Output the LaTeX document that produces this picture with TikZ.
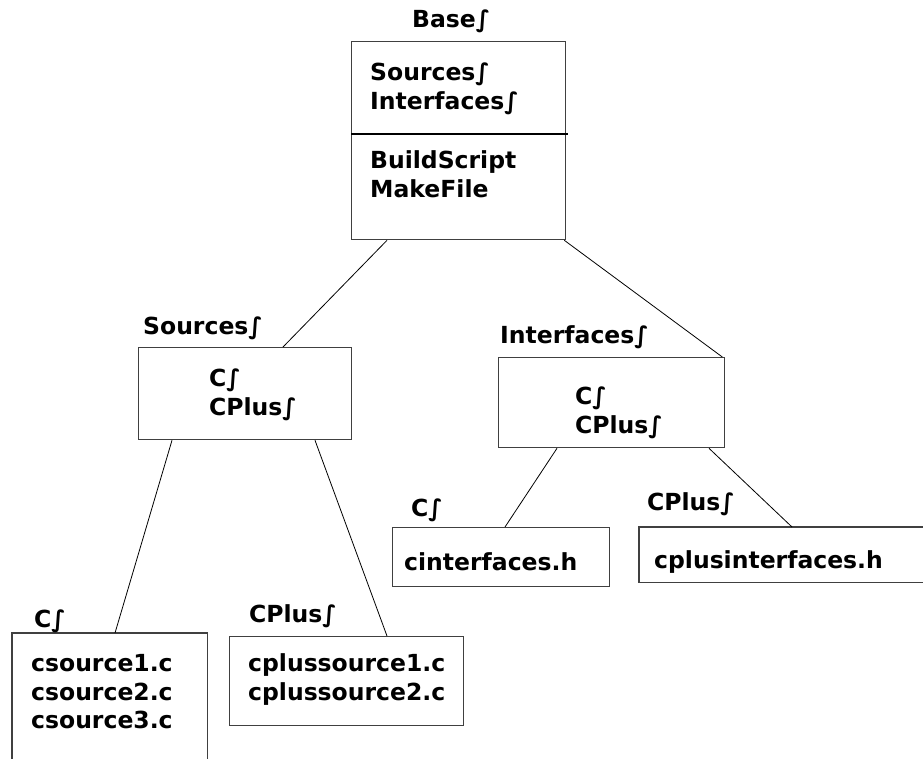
\documentclass[tikz,border=0pt]{standalone}
\usepackage{fontspec}
\setmainfont{DejaVu Sans}
\usetikzlibrary{calc}
\begin{document}
\begin{tikzpicture}[x=1pt,y=-1pt,
  frame/.style={draw=black!75, line width=1.3pt},
  box/.style={frame, inner sep=0pt, anchor=north west},
  hollow/.style={inner sep=0pt, anchor=north west},
  txt/.style={anchor=base west, inner sep=0pt, font=\fontsize{23.5}{28}\selectfont\bfseries},
  link/.style={draw=black, line width=0.8pt}]
\useasboundingbox (0,0) rectangle (923,758);

% folder boxes
\node[box, minimum width=214pt, minimum height=198pt] (base) at (351,41) {};
\node[box, minimum width=213pt, minimum height=92pt] (src) at (138,347) {};
\node[box, minimum width=226pt, minimum height=90pt] (ifc) at (498,357) {};
\node[box, minimum width=234pt, minimum height=89pt] (cps) at (229,636) {};
\node[box, minimum width=217pt, minimum height=59pt] (cif) at (392,527) {};
% boxes running off the page edge
\node[hollow, minimum width=195pt, minimum height=128pt] (csrc) at (12,633) {};
\draw[frame] (csrc.south west) -- (csrc.north west) -- (csrc.north east) -- (csrc.south east);
\node[hollow, minimum width=290pt, minimum height=55pt] (cpif) at (639,527) {};
\draw[frame] (cpif.north east) -- (cpif.north west) -- (cpif.south west) -- (cpif.south east);

% divider inside the base box
\draw[line width=2pt] ($(base.north west)+(0,93)$) -- ($(base.north east)+(2,93)$);

% tree connectors
\draw[link] ($(base.south west)+(36,0)$) -- ($(src.north west)+(145,0)$);
\draw[link] ($(base.south east)+(-2,0)$) -- ($(ifc.north east)+(-3,0)$);
\draw[link] ($(src.south west)+(34,0)$) -- ($(csrc.north west)+(103,0)$);
\draw[link] ($(src.south west)+(177,0)$) -- ($(cps.north west)+(158,0)$);
\draw[link] ($(ifc.south west)+(59,0)$) -- ($(cif.north west)+(113,0)$);
\draw[link] ($(ifc.south west)+(211,0)$) -- ($(cpif.north west)+(153,0)$);

% titles
\node[txt] (tbase) at (412,27) {Base∫};
\node[txt] (tsrc) at (143,334) {Sources∫};
\node[txt] (tifc) at (500,343) {Interfaces∫};
\node[txt] (tcsrc) at (34,627) {C∫};
\node[txt] (tcps) at (249,622) {CPlus∫};
\node[txt] (tcif) at (411,516) {C∫};
\node[txt] (tcpif) at (647,510) {CPlus∫};

% contents
\node[txt] (b1) at (370,80.5) {Sources∫};
\node[txt] (b2) at (370,109.5) {Interfaces∫};
\node[txt] (b3) at (370,168.5) {BuildScript};
\node[txt] (b4) at (370,197) {MakeFile};
\node[txt] (s1) at (209,386.5) {C∫};
\node[txt] (s2) at (209,415.5) {CPlus∫};
\node[txt] (i1) at (575,404) {C∫};
\node[txt] (i2) at (575,433) {CPlus∫};
\node[txt] (c1) at (31,671.5) {csource1.c};
\node[txt] (c2) at (31,700) {csource2.c};
\node[txt] (c3) at (31,728.5) {csource3.c};
\node[txt] (p1) at (248,671.5) {cplussource1.c};
\node[txt] (p2) at (248,700) {cplussource2.c};
\node[txt] (h1) at (404,570) {cinterfaces.h};
\node[txt] (h2) at (654,568) {cplusinterfaces.h};
\end{tikzpicture}
\end{document}
